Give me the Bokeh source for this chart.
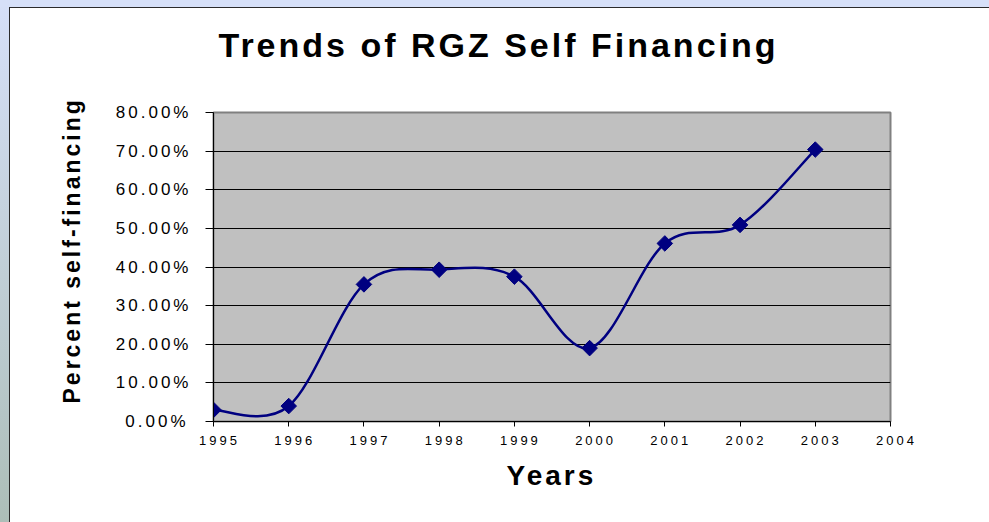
import math
from bokeh.plotting import figure
from bokeh.models import (FixedTicker, NumeralTickFormatter, Range1d,
                          ColumnDataSource, InlineStyleSheet, Title)
from bokeh.embed import file_html
from bokeh.resources import INLINE

# ---- data ----
years = [1995, 1996, 1997, 1998, 1999, 2000, 2001, 2002, 2003]
self_financing = [0.030, 0.040, 0.355, 0.393, 0.375, 0.190, 0.461, 0.509, 0.704]
x_ticks = [1995, 1996, 1997, 1998, 1999, 2000, 2001, 2002, 2003, 2004]
y_ticks = [0.0, 0.1, 0.2, 0.3, 0.4, 0.5, 0.6, 0.7, 0.8]
title_text = "Trends of RGZ Self Financing"
x_label = "Years"
y_label = "Percent self-financing"

FONT = "Liberation Sans"
NAVY = "#000080"
D = 30  # extra room above, hidden by a negative top margin

css = f"""
:host {{
  margin-top: -{D}px;
  letter-spacing: 3px;
  background:
    linear-gradient(#2b2b2b, #2b2b2b) 9px {D + 7}px / 100% 1px no-repeat,
    linear-gradient(#2b2b2b, #2b2b2b) 9px {D + 7}px / 1px 100% no-repeat,
    linear-gradient(#d6e0f8, #d6e0f8) 0 {D}px / 100% 7px no-repeat,
    linear-gradient(to bottom, #d6e0f8, #aabcb4) 0 {D}px / 9px 100% no-repeat,
    white;
}}
"""

p = figure(output_backend="svg", toolbar_location=None,
           frame_width=677, frame_height=309,
           min_border_left=213, min_border_right=99,
           min_border_top=112 + D, min_border_bottom=101,
           x_range=Range1d(x_ticks[0], x_ticks[-1]),
           y_range=Range1d(y_ticks[0], y_ticks[-1]))

p.stylesheets = [InlineStyleSheet(css=css)]

p.background_fill_color = "#c0c0c0"
p.border_fill_color = "white"
p.border_fill_alpha = 0
p.outline_line_color = "#808080"
p.outline_line_width = 2

# chart title
p.title.text = title_text
p.title.align = "left"
p.title.offset = 5
p.title.standoff = 98
p.title.text_font = FONT
p.title.text_font_size = "34px"
p.title.text_font_style = "bold"
p.title.text_color = "black"

# axes
p.xaxis.ticker = FixedTicker(ticks=x_ticks)
p.yaxis.ticker = FixedTicker(ticks=y_ticks)
p.yaxis.formatter = NumeralTickFormatter(format="0.00%")
for ax in (p.xaxis[0], p.yaxis[0]):
    ax.axis_line_color = "black"
    ax.axis_line_width = 1
    ax.major_tick_line_color = "black"
    ax.minor_tick_line_color = None
    ax.major_tick_in = 0
    ax.major_label_text_font = FONT
    ax.major_label_text_color = "black"
p.xaxis.major_tick_out = 5
p.xaxis.major_label_standoff = 9
p.xaxis.major_label_text_font_size = "13px"
p.yaxis.major_tick_out = 8
p.yaxis.major_label_standoff = 32
p.yaxis.major_label_text_font_size = "17px"

# axis titles
p.add_layout(Title(text=x_label, align="left", offset=293, vertical_align="top",
                   standoff=24, text_font=FONT, text_font_size="28px",
                   text_font_style="bold", text_color="black"), "below")
p.add_layout(Title(text=y_label, align="left", offset=18, vertical_align="bottom",
                   standoff=55, text_font=FONT, text_font_size="23px",
                   text_font_style="bold", text_color="black"), "left")

p.xgrid.grid_line_color = None
p.ygrid.grid_line_color = "black"
p.ygrid.grid_line_width = 1

# smoothed line (cubic Bezier segments through the data points)
n = len(years)
seg = dict(x0=[], y0=[], x1=[], y1=[], cx0=[], cy0=[], cx1=[], cy1=[])
for i in range(n - 1):
    a = i - 1 if i > 0 else i
    b = i + 2 if i + 2 < n else i + 1
    seg["x0"].append(years[i]); seg["y0"].append(self_financing[i])
    seg["x1"].append(years[i + 1]); seg["y1"].append(self_financing[i + 1])
    seg["cx0"].append(years[i] + (years[i + 1] - years[a]) / 6)
    seg["cy0"].append(self_financing[i] + (self_financing[i + 1] - self_financing[a]) / 6)
    seg["cx1"].append(years[i + 1] - (years[b] - years[i]) / 6)
    seg["cy1"].append(self_financing[i + 1] - (self_financing[b] - self_financing[i]) / 6)
p.bezier(x0="x0", y0="y0", x1="x1", y1="y1", cx0="cx0", cy0="cy0",
         cx1="cx1", cy1="cy1", source=ColumnDataSource(seg),
         line_color=NAVY, line_width=2.5)

p.scatter(years, self_financing, marker="square", angle=math.pi / 4,
          size=11, fill_color=NAVY, line_color=NAVY)

open("out.html", "w").write(file_html(p, INLINE))
